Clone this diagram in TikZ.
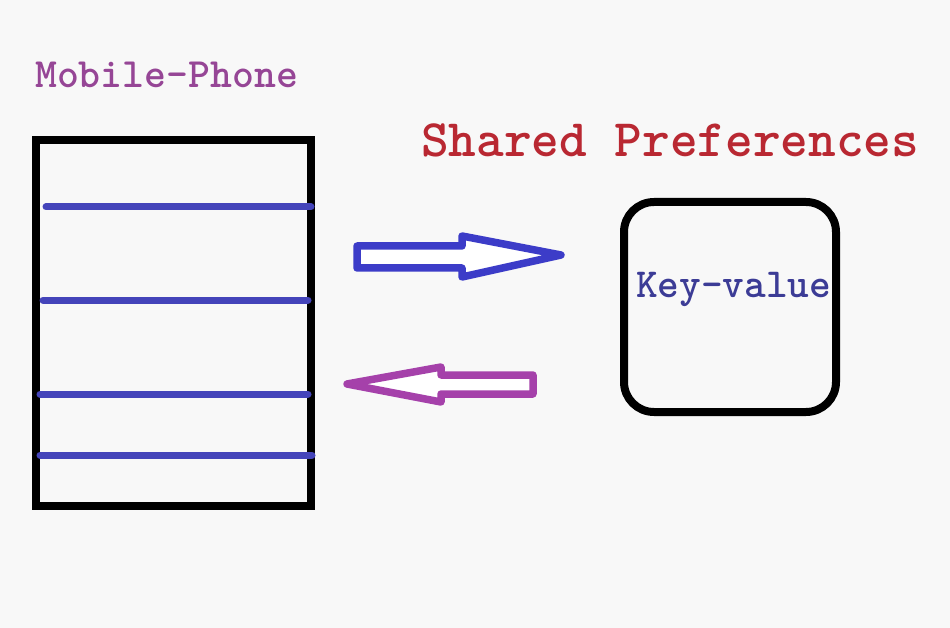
\documentclass[tikz,border=0pt]{standalone}
\begin{document}
\begin{tikzpicture}[x=1pt,y=-1pt,
  lbl/.style={inner sep=0pt, anchor=base west},
  frame/.style={draw=black, line width=8pt},
  bar/.style={draw=barblue, line width=7pt, line cap=round},
  bigarrow/.style={line width=7.5pt, line join=round, fill=white}]
\definecolor{bg}{RGB}{248,248,248}
\definecolor{barblue}{RGB}{68,68,186}
\definecolor{arrowblue}{RGB}{60,60,200}
\definecolor{arrowmag}{RGB}{165,65,170}
\definecolor{phonetxt}{RGB}{150,70,150}
\definecolor{sptxt}{RGB}{185,40,50}
\definecolor{kvtxt}{RGB}{60,60,150}
\useasboundingbox[fill=bg] (0,0) rectangle (950,628);
% texts
\node[lbl, text=phonetxt, font=\fontsize{41.7}{45}\ttfamily\bfseries] (mp) at (35,88) {Mobile-Phone};
\node[lbl, text=sptxt, font=\fontsize{52.7}{56}\ttfamily\bfseries] (sp) at (421,157) {Shared Preferences};
% phone
\node[frame, minimum width=275pt, minimum height=366pt, inner sep=0pt] (phone) at (173.5,323) {};
\coordinate (b1l) at (46,207); \coordinate (b1r) at (311,207);
\coordinate (b2l) at (43,300); \coordinate (b2r) at (308,300);
\coordinate (b3l) at (40,394); \coordinate (b3r) at (308,394);
\coordinate (b4l) at (40,455); \coordinate (b4r) at (312,455);
\draw[bar] (b1l) -- (b1r);
\draw[bar] (b2l) -- (b2r);
\draw[bar] (b3l) -- (b3r);
\draw[bar] (b4l) -- (b4r);
% key-value box
\node[frame, rounded corners=30pt, minimum width=212pt, minimum height=210pt, inner sep=0pt] (kv) at (730,307) {};
\node[lbl, text=kvtxt, font=\fontsize{41.3}{45}\ttfamily\bfseries] (kvt) at (636,298) {Key-value};
% right arrow
\draw[bigarrow, draw=arrowblue] (357,246) -- (462,246) -- (462,236) -- (561,255) -- (462,277) -- (462,268) -- (357,268) -- cycle;
% left arrow
\draw[bigarrow, draw=arrowmag] (533,375) -- (441,375) -- (441,367) -- (347,384) -- (441,402) -- (441,394) -- (533,394) -- cycle;
\end{tikzpicture}
\end{document}
